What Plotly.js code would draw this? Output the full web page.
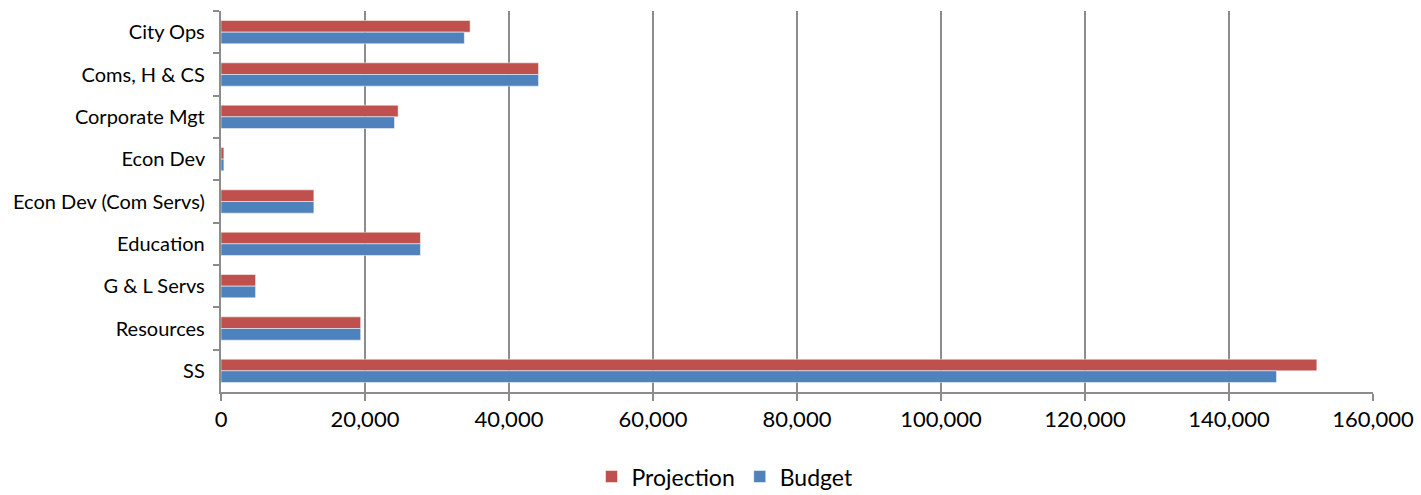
<!DOCTYPE html>
<html>
<head>
<meta charset="utf-8">
<script src="https://cdn.plot.ly/plotly-3.0.1.min.js"></script>
<style>html,body{margin:0;padding:0;background:#fff;}#chart{width:1421px;height:495px;}</style>
</head>
<body>
<div id="chart"></div>
<script>
const categories = ["City Ops","Coms, H & CS","Corporate Mgt","Econ Dev","Econ Dev (Com Servs)","Education","G & L Servs","Resources","SS"];
const projection = [34600, 44100, 24600, 400, 12900, 27700, 4800, 19400, 152200];
const budget = [33800, 44100, 24100, 400, 12900, 27700, 4800, 19400, 146600];
const xTicks = [0,20000,40000,60000,80000,100000,120000,140000,160000];

const font = "Lato, 'Open Sans', sans-serif";
const traces = [
  {type:'bar', orientation:'h', name:'Projection', y:categories, x:projection,
   marker:{color:'#c0504d', line:{color:'#ffffff', width:0.5}}},
  {type:'bar', orientation:'h', name:'Budget', y:categories, x:budget,
   marker:{color:'#4f81bd', line:{color:'#ffffff', width:0.5}}}
];
const layout = {
  width:1421, height:495,
  margin:{l:221, r:48, t:11, b:103, autoexpand:false},
  paper_bgcolor:'#fff', plot_bgcolor:'#fff',
  barmode:'group', bargap:0.45, bargroupgap:0,
  font:{family:font, size:20, color:'#000'},
  showlegend:true,
  legend:{orientation:'h', x:0.4375, xanchor:'center', y:-0.222, yanchor:'middle', yref:'paper',
          traceorder:'normal', font:{size:23}, itemwidth:30},
  xaxis:{range:[0,160000], tickvals:xTicks, tickformat:',d', showgrid:true, gridcolor:'#8c8c8c', gridwidth:2,
         showline:true, linecolor:'#8c8c8c', linewidth:2, ticks:'outside', ticklen:7, tickcolor:'#8c8c8c', tickwidth:2,
         zeroline:false, automargin:false, tickfont:{size:22}},
  yaxis:{autorange:'reversed', type:'category', showline:true, linecolor:'#8c8c8c', linewidth:2,
         ticks:'outside', tickson:'boundaries', ticklen:6, tickcolor:'#8c8c8c', tickwidth:2,
         ticksuffix:'  ', showgrid:false, automargin:false, tickfont:{size:20}}
};
Plotly.newPlot('chart', traces, layout, {displayModeBar:false});
</script>
</body>
</html>
